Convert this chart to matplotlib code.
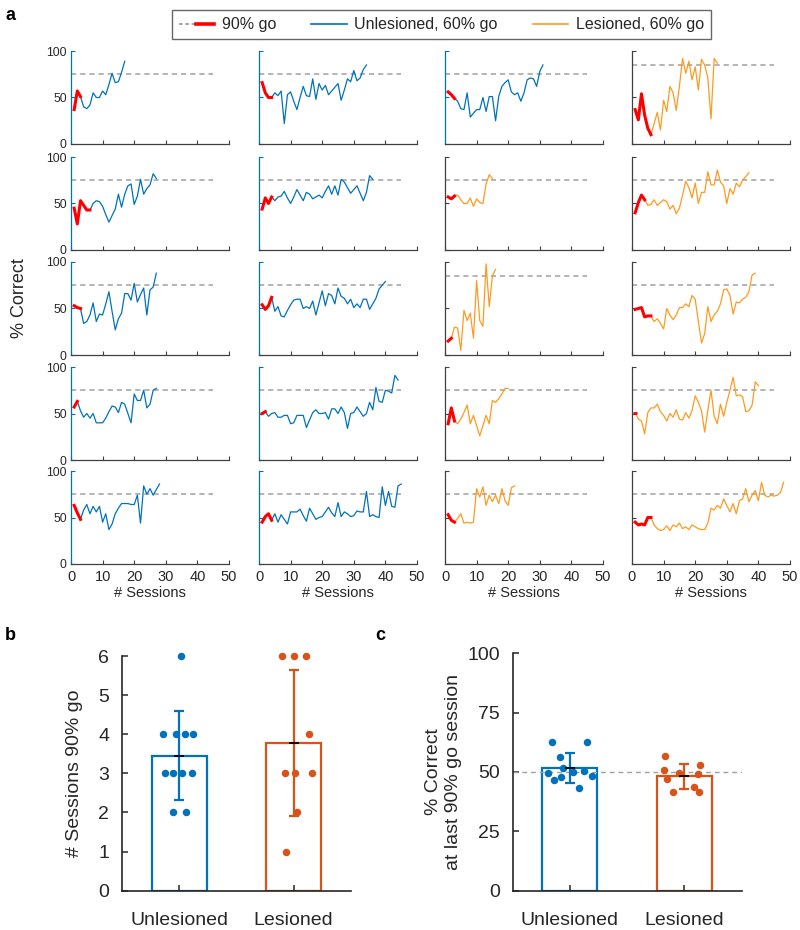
import matplotlib
matplotlib.use("Agg")
import matplotlib.pyplot as plt
from matplotlib.lines import Line2D
from matplotlib.legend_handler import HandlerTuple
import numpy as np

plt.rcParams["font.family"] = ["Liberation Sans", "DejaVu Sans"]

BLUE, ORANGE, RED = "#0072BD", "#FF9A1F", "#FF0000"
BAR_U, BAR_L = "#0072BD", "#D95319"
DASH, AXC, INK = "#A0A0A0", "#404040", "#262626"
W, H = 800, 930

# % correct per session (session 1 first); the first n90 sessions are 90% go
u1 = [37, 57, 51, 40, 38, 42, 55, 50, 50, 57, 53, 64, 76, 66, 67, 77, 89]
u2 = [45, 28, 53, 48, 43, 43, 50, 53, 52, 47, 38, 30, 37, 44, 60, 46, 60, 69, 71, 49, 58, 76,
      60, 66, 70, 82, 77]
u3 = [53, 51, 50, 34, 36, 43, 56, 36, 44, 43, 55, 68, 47, 27, 39, 45, 66, 66, 59, 77, 57, 65,
      72, 43, 70, 73, 88]
u4 = [57, 63, 53, 46, 50, 45, 50, 40, 40, 40, 45, 52, 58, 57, 51, 62, 60, 50, 40, 71, 64, 64,
      75, 56, 60, 75, 77]
u5 = [63, 55, 48, 58, 64, 54, 62, 56, 62, 45, 54, 37, 43, 54, 60, 65, 65, 65, 64, 64, 74, 44,
      84, 75, 81, 74, 80, 86]
u6 = [66, 55, 50, 50, 55, 52, 57, 22, 53, 56, 46, 37, 50, 62, 52, 51, 70, 48, 65, 58, 63, 53,
      57, 61, 65, 47, 58, 70, 67, 79, 68, 71, 80, 85]
u7 = [44, 56, 50, 57, 53, 57, 58, 63, 56, 50, 57, 65, 59, 53, 62, 60, 55, 57, 59, 56, 63, 69,
      60, 69, 59, 76, 73, 67, 61, 65, 69, 61, 53, 62, 80, 76]
u8 = [54, 49, 53, 62, 47, 52, 42, 41, 48, 54, 59, 60, 60, 50, 52, 50, 58, 43, 56, 69, 53, 66,
      64, 55, 72, 63, 61, 55, 60, 51, 55, 51, 60, 60, 49, 55, 61, 71, 75, 79]
u9 = [50, 52, 47, 50, 51, 46, 46, 48, 48, 39, 40, 48, 48, 48, 35, 43, 51, 54, 50, 50, 51, 44,
      55, 55, 50, 57, 51, 34, 50, 51, 57, 52, 47, 50, 62, 54, 78, 63, 62, 75, 74, 72, 91, 86]
u10 = [45, 51, 54, 47, 54, 45, 53, 48, 43, 56, 56, 56, 59, 52, 46, 60, 54, 48, 50, 51, 56, 61,
       55, 51, 66, 51, 56, 54, 51, 52, 57, 56, 56, 78, 51, 53, 51, 50, 83, 63, 78, 62, 61, 84, 86]
u11 = [56, 53, 49, 46, 38, 37, 55, 29, 33, 37, 37, 50, 35, 51, 51, 25, 51, 62, 66, 69, 56, 53,
       55, 46, 55, 69, 71, 70, 62, 78, 85]
l1 = [57, 55, 58, 59, 54, 50, 50, 56, 47, 55, 51, 50, 71, 81, 77]
l2 = [15, 18, 30, 29, 5, 48, 37, 45, 18, 80, 37, 31, 98, 52, 85, 92]
l3 = [39, 56, 42, 39, 44, 51, 59, 39, 48, 37, 26, 37, 48, 39, 64, 62, 66, 71, 77, 77]
l4 = [53, 47, 45, 49, 54, 44, 45, 44, 45, 81, 72, 83, 63, 74, 67, 74, 65, 81, 68, 63, 82, 84]
l5 = [37, 26, 54, 31, 17, 10, 22, 34, 15, 47, 35, 62, 55, 36, 62, 92, 76, 89, 69, 83, 58, 91,
      85, 71, 27, 92, 87]
l6 = [40, 51, 59, 54, 48, 49, 54, 48, 51, 54, 52, 44, 48, 39, 45, 59, 74, 67, 56, 72, 50, 62,
      62, 84, 70, 70, 86, 73, 69, 50, 66, 60, 72, 68, 75, 79, 83]
l7 = [49, 50, 51, 41, 42, 42, 36, 39, 34, 28, 50, 43, 38, 43, 51, 51, 55, 52, 64, 60, 36, 13,
      23, 52, 36, 43, 47, 55, 70, 71, 64, 44, 57, 56, 60, 62, 68, 86, 88]
l8 = [51, 44, 42, 28, 51, 56, 56, 60, 52, 48, 42, 50, 46, 54, 44, 43, 51, 45, 53, 69, 62, 53,
      30, 53, 75, 47, 39, 60, 47, 62, 75, 89, 69, 70, 68, 52, 53, 59, 84, 80]
l9 = [45, 42, 43, 42, 50, 50, 42, 38, 36, 37, 41, 36, 42, 40, 44, 38, 40, 37, 42, 40, 38, 37,
      37, 44, 60, 58, 63, 60, 70, 63, 56, 65, 54, 68, 70, 81, 67, 74, 79, 68, 88, 74, 72, 74,
      73, 74, 77, 88]

n90_u = [3, 6, 3, 2, 3, 4, 4, 4, 2, 4, 3]
n90_l = [3, 2, 3, 3, 6, 4, 6, 1, 6]
crit_u = [75, 75, 75, 75, 75, 75, 75, 75, 75, 75, 75]
crit_l = [75, 85, 75, 75, 85, 75, 75, 75, 75]

# jitter of the dots in b (same animal order as above)
jit_b_u = [-0.12, 0.02, -0.05, -0.05, 0.03, -0.14, -0.03, 0.05, 0.06, 0.12, 0.11]
jit_b_l = [-0.08, 0.03, 0.01, 0.16, -0.10, 0.13, 0.0, -0.07, 0.11]

# c: % correct at last 90% go session
c_u = [62.8, 62.8, 56.5, 49.4, 51.5, 50.1, 50.6, 46.6, 48.0, 48.5, 43.1]
jit_c_u = [-0.16, 0.15, -0.09, -0.19, -0.06, 0.03, 0.12, -0.14, -0.08, 0.19, 0.08]
c_l = [56.9, 52.9, 50.8, 49.7, 49.0, 47.1, 43.8, 41.7, 41.4]
jit_c_l = [-0.17, 0.14, -0.175, -0.05, 0.12, -0.15, 0.08, -0.10, 0.13]

groups = ["Unlesioned", "Lesioned"]

fig = plt.figure(figsize=(W / 100, H / 100), dpi=100, facecolor="white")


def px_axes(left, top, right, bottom):
    return fig.add_axes([left / W, 1 - bottom / H, (right - left) / W, (bottom - top) / H])


# ---------------- a: learning curves ----------------
COL_L = [71, 259, 445, 632]
ROW_T = [51, 157, 262, 367, 471]
traces = [u1, u2, u3, u4, u5, u6, u7, u8, u9, u10, u11, l1, l2, l3, l4, l5, l6, l7, l8, l9]
n90 = n90_u + n90_l
crit = crit_u + crit_l
for k, vals in enumerate(traces):
    col, row = k // 5, k % 5
    les = k >= len(n90_u)
    ax = px_axes(COL_L[col], ROW_T[row], COL_L[col] + 158, ROW_T[row] + 93)
    vals = np.array(vals, dtype=float)
    x = np.arange(1, len(vals) + 1)
    n = n90[k]
    ax.plot([0, 45], [crit[k], crit[k]], color=DASH, ls=(0, (3.4, 2.6)), lw=1.1)
    ax.plot(x[n - 1:], vals[n - 1:], color=ORANGE if les else BLUE, lw=0.9)
    ax.plot(x[:n], vals[:n], color=RED, lw=2.2, marker="_" if n == 1 else None,
            ms=3, mew=2)
    ax.set_xlim(0, 50)
    ax.set_ylim(0, 100)
    ax.set_xticks(range(0, 51, 10))
    ax.set_yticks([0, 50, 100])
    for sp in ("top", "right"):
        ax.spines[sp].set_visible(False)
    lc = AXC if les else BLUE
    ax.spines["left"].set_color(lc)
    ax.spines["bottom"].set_color(AXC)
    for sp in ("left", "bottom"):
        ax.spines[sp].set_linewidth(0.9)
    ax.tick_params(direction="in", length=3, width=0.8, labelcolor=INK)
    ax.tick_params(axis="x", color=AXC, labelsize=10.5, pad=4,
                   labelbottom=(row == 4))
    ax.tick_params(axis="y", color=lc, labelsize=8.7, pad=3,
                   labelleft=(col == 0))
    if row == 4:
        ax.set_xlabel("# Sessions", fontsize=10.5, color=INK, labelpad=2)

fig.text(19 / W, 1 - 298 / H, "% Correct", rotation=90, fontsize=13, color=INK,
         ha="center", va="center")

hgo = (Line2D([], [], color=DASH, ls=(0, (2, 1.5)), lw=1.3),
       Line2D([], [], color=RED, lw=2.6))
leg = fig.legend([hgo, Line2D([], [], color=BLUE, lw=1.2),
                  Line2D([], [], color=ORANGE, lw=1.2)],
                 ["90% go", "Unlesioned, 60% go", "Lesioned, 60% go"],
                 loc="upper center", bbox_to_anchor=(441.5 / W, 1 - 2 / H), ncol=3,
                 fontsize=11.5, frameon=True, fancybox=False, edgecolor=AXC,
                 handlelength=2.2, handletextpad=0.5, columnspacing=2.2, borderpad=0.45,
                 handler_map={tuple: HandlerTuple(ndivide=None, pad=0)})
leg.get_frame().set_linewidth(1.0)
for t in leg.get_texts():
    t.set_color(INK)


def style_bar_axes(ax):
    for sp in ("top", "right"):
        ax.spines[sp].set_visible(False)
    for sp in ("left", "bottom"):
        ax.spines[sp].set_color(INK)
        ax.spines[sp].set_linewidth(1.2)
    ax.tick_params(direction="in", length=4, width=1.1, colors=INK, labelsize=14)
    ax.tick_params(axis="x", pad=15)
    ax.tick_params(axis="y", pad=9)
    ax.set_xlim(0.5, 2.5)
    ax.set_xticks([1, 2], groups)


def group_bars(ax, data, jits):
    for i, (vals, jit, c) in enumerate(zip(data, jits, [BAR_U, BAR_L])):
        vals = np.asarray(vals, dtype=float)
        m, sd = vals.mean(), vals.std(ddof=1)
        xc = i + 1
        ax.bar(xc, m, width=0.48, facecolor="white", edgecolor=c, lw=1.6, zorder=1)
        ax.plot(xc + np.asarray(jit), vals, "o", color=c, ms=5.4, mec="none", zorder=3,
                clip_on=False)
        ax.errorbar(xc, m, yerr=sd, color=c, lw=1.6, capsize=3.5, capthick=1.6, zorder=4)
        ax.plot(xc, m, marker="_", color="black", ms=7, mew=1.3, zorder=5)


# ---------------- b: sessions at 90% go ----------------
axb = px_axes(121.7, 656, 351, 890.7)
group_bars(axb, [n90_u, n90_l], [jit_b_u, jit_b_l])
style_bar_axes(axb)
axb.set_ylim(0, 6)
axb.set_yticks(range(7))
axb.set_ylabel("# Sessions 90% go", fontsize=14, color=INK, labelpad=11)

# ---------------- c: % correct at last 90% go session ----------------
axc = px_axes(512.7, 653.3, 741.7, 890.7)
axc.axhline(50, color=DASH, ls=(0, (3.5, 2.8)), lw=1.0, zorder=2)
group_bars(axc, [c_u, c_l], [jit_c_u, jit_c_l])
style_bar_axes(axc)
axc.set_ylim(0, 100)
axc.set_yticks([0, 25, 50, 75, 100])
axc.set_ylabel("% Correct\nat last 90% go session", fontsize=14, color=INK, labelpad=4)

for lab, (xp, yp) in {"a": (5, 16), "b": (5, 636), "c": (375, 636)}.items():
    fig.text(xp / W, 1 - yp / H, lab, fontsize=13, fontweight="bold", color="black",
             ha="left", va="center")

fig.savefig("out.png", dpi=100, facecolor="white")
